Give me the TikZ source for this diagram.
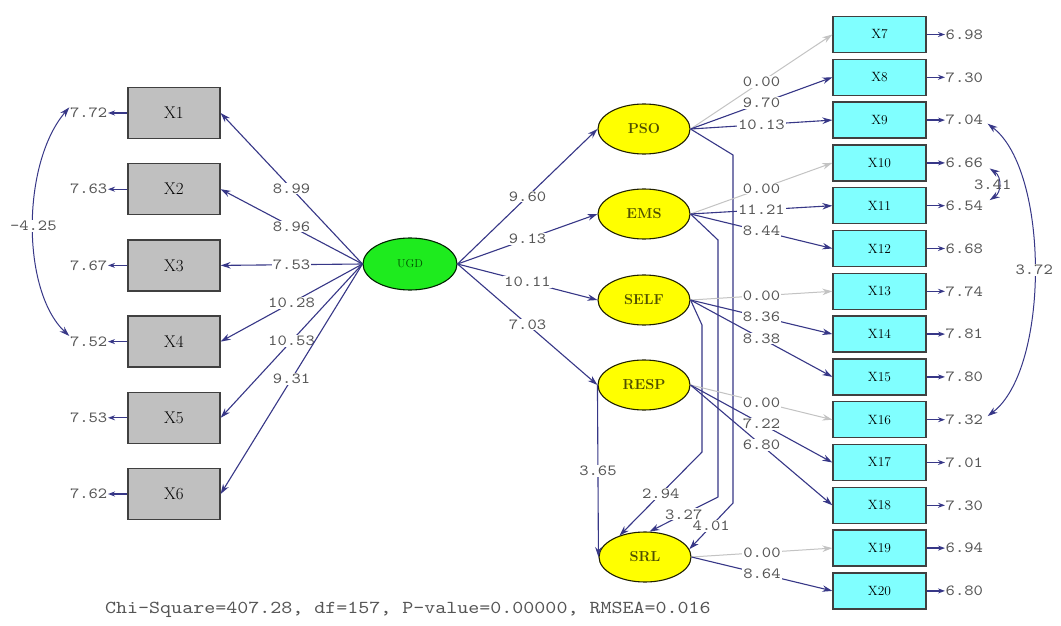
\documentclass[tikz,border=0pt]{standalone}
\usepackage{fontspec}
\newfontfamily\monof{lmmono10-regular.otf}[FakeStretch=1.15]
\usetikzlibrary{arrows.meta,shapes.geometric}
\definecolor{pathc}{RGB}{55,55,135}
\definecolor{lblc}{RGB}{85,85,85}
\definecolor{fixc}{RGB}{195,195,195}
\definecolor{boxg}{RGB}{192,192,192}
\definecolor{boxc}{RGB}{128,255,255}
\definecolor{latc}{RGB}{255,255,0}
\definecolor{ugdc}{RGB}{30,235,30}
\definecolor{latt}{RGB}{80,80,0}
\definecolor{ugdt}{RGB}{0,80,0}
\begin{document}
\begin{tikzpicture}[x=1bp,y=-1bp,
 lbox/.style={draw=black!75, fill=boxg, line width=1.3bp, minimum width=92bp, minimum height=51bp, inner sep=0pt, font=\fontsize{17}{17}\selectfont},
 rbox/.style={draw=black!75, fill=boxc, line width=1.3bp, minimum width=93bp, minimum height=36bp, inner sep=0pt, font=\fontsize{13.5}{13.5}\selectfont},
 lat/.style={ellipse, draw=black!60!latt, fill=latc, line width=1.1bp, minimum width=92bp, minimum height=50bp, inner sep=0pt, text=latt, font=\bfseries\fontsize{14.5}{14.5}\selectfont},
 ugdn/.style={ellipse, draw=black!60!ugdt, fill=ugdc, line width=1.1bp, minimum width=94bp, minimum height=52bp, inner sep=0pt, text=ugdt, font=\fontsize{11.5}{11.5}\selectfont},
 num/.style={text=lblc, font=\monof\fontsize{15.5}{15.5}\selectfont, inner sep=1bp, fill=white},
 errn/.style={text=lblc, font=\monof\fontsize{15.5}{15.5}\selectfont, inner sep=0.5bp},
 pth/.style={draw=pathc, line width=1.1bp, -{Stealth[length=10bp,width=6.5bp]}},
 fixp/.style={draw=fixc, line width=1bp, -{Stealth[length=10bp,width=6.5bp]}},
 errp/.style={draw=pathc, line width=1.3bp, -{Stealth[length=7bp,width=5bp]}},
 cov/.style={draw=pathc, line width=1bp, {Stealth[length=10bp,width=6.5bp]}-{Stealth[length=10bp,width=6.5bp]}},
]
\fill[white] (0,0) rectangle (1061,626);
\useasboundingbox (0,0) rectangle (1061,626);

% left indicators
\foreach \i/\v [count=\k from 0] in {1/7.72,2/7.63,3/7.67,4/7.52,5/7.53,6/7.62}{
  \node[lbox] (X\i) at (174,{113+76.2*\k}) {X\i};
  \node[errn,anchor=east] (e\i) at (108,{113+76.2*\k}) {\v};
  \draw[errp] (X\i.west) -- (e\i.east);
}
% right indicators
\foreach \i/\v [count=\k from 0] in {7/6.98,8/7.30,9/7.04,10/6.66,11/6.54,12/6.68,13/7.74,14/7.81,15/7.80,16/7.32,17/7.01,18/7.30,19/6.94,20/6.80}{
  \node[rbox] (X\i) at (879.5,{34.5+42.8*\k}) {X\i};
  \node[errn,anchor=west] (e\i) at (945,{34.5+42.8*\k}) {\v};
  \draw[errp] (X\i.east) -- (e\i.west);
}

% latent variables
\node[ugdn] (UGD) at (410,264) {UGD};
\node[lat] (PSO) at (644,129) {PSO};
\node[lat] (EMS) at (644,214) {EMS};
\node[lat] (SELF) at (644,300) {SELF};
\node[lat] (RESP) at (644,385) {RESP};
\node[lat] (SRL) at (645,557) {SRL};

% UGD -> X1..X6
\foreach \i/\v in {1/8.99,2/8.96,3/7.53,4/10.28,5/10.53,6/9.31}{
  \draw[pth] (UGD.west) -- node[num]{\v} (X\i.east);
}
% UGD -> latent
\draw[pth] (UGD.east) -- node[num]{9.60} (PSO.west);
\draw[pth] (UGD.east) -- node[num]{9.13} (EMS.west);
\draw[pth] (UGD.east) -- node[num]{10.11} (SELF.west);
\draw[pth] (UGD.east) -- node[num]{7.03} (RESP.west);

% paths to SRL
\draw[pth] (RESP.west) -- node[num]{3.65} (SRL.west);
\draw[pth] (SELF.east) -- (702,325) -- (702,452) -- node[num]{2.94} (SRL.140);
\draw[pth] (EMS.east) -- (718,240) -- (718,497) -- node[num]{3.27} (SRL.80);
\draw[pth] (PSO.east) -- (733,155) -- (733,503) -- node[num]{4.01} (SRL.10);

% measurement paths
\draw[fixp] (PSO.east) -- node[num]{0.00} (X7.west);
\draw[pth] (PSO.east) -- node[num]{9.70} (X8.west);
\draw[pth] (PSO.east) -- node[num]{10.13} (X9.west);
\draw[fixp] (EMS.east) -- node[num]{0.00} (X10.west);
\draw[pth] (EMS.east) -- node[num]{11.21} (X11.west);
\draw[pth] (EMS.east) -- node[num]{8.44} (X12.west);
\draw[fixp] (SELF.east) -- node[num]{0.00} (X13.west);
\draw[pth] (SELF.east) -- node[num]{8.36} (X14.west);
\draw[pth] (SELF.east) -- node[num]{8.38} (X15.west);
\draw[fixp] (RESP.east) -- node[num]{0.00} (X16.west);
\draw[pth] (RESP.east) -- node[num]{7.22} (X17.west);
\draw[pth] (RESP.east) -- node[num]{6.80} (X18.west);
\draw[fixp] (SRL.east) -- node[num]{0.00} (X19.west);
\draw[pth] (SRL.east) -- node[num]{8.64} (X20.west);

% covariances
\draw[cov] (e1.north west) .. controls +(-48,56) and +(-48,-45) .. node[num,pos=0.5]{-4.25} (e4.north west);
\draw[cov] ([xshift=4bp,yshift=2bp]e9.south east) .. controls +(62,47) and +(62,-47) .. node[num,pos=0.5]{3.72} ([xshift=4bp,yshift=-2bp]e16.north east);
\draw[cov] ([xshift=6bp]e10.south east) .. controls +(12,8) and +(12,-8) .. node[num,pos=0.5,xshift=-6bp,fill=none]{3.41} ([xshift=6bp]e11.north east);

\node[text=lblc, font=\monof\fontsize{18.3}{18.3}\selectfont, anchor=west, inner sep=0pt] (fit) at (105,610) {Chi-Square=407.28, df=157, P-value=0.00000, RMSEA=0.016};
\end{tikzpicture}
\end{document}
